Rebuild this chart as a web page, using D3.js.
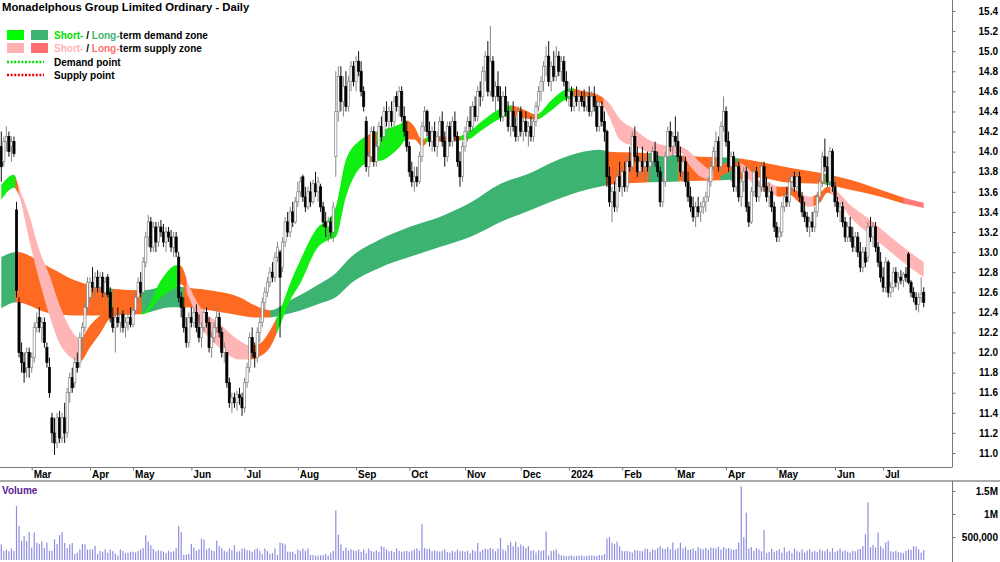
<!DOCTYPE html>
<html><head><meta charset="utf-8">
<script src="https://cdn.jsdelivr.net/npm/d3@7"></script>
<style>
body{margin:0;background:#fff}
svg{display:block}
text{font-family:"Liberation Sans",Arial,sans-serif;font-weight:bold;font-size:10px}
</style>
</head><body>
<svg id="c" width="1000" height="562"></svg>
<script>
// ---------- DATA ----------
const chartTitle = "Monadelphous Group Limited Ordinary - Daily";
const holidays = ["2023-04-07","2023-04-10","2023-04-25","2023-06-12","2023-12-25","2023-12-26",
  "2024-01-01","2024-01-26","2024-03-29","2024-04-01","2024-04-25","2024-06-10"];
const firstDay = "2023-02-13", lastDay = "2024-07-23";

const priceTicks = [11.0,11.2,11.4,11.6,11.8,12.0,12.2,12.4,12.6,12.8,13.0,13.2,13.4,13.6,13.8,14.0,14.2,14.4,14.6,14.8,15.0,15.2,15.4];
const volumeTicks = [500000, 1000000, 1500000];
const volumeTickLabels = ["500,000", "1M", "1.5M"];

// OHLC per month [open, high, low, close]
const ohlc_2023_02 = [[14.05,14.20,13.70,13.85],[13.90,14.15,13.85,14.10],[14.10,14.25,14.00,14.15],[14.15,14.20,13.95,14.00],[14.05,14.15,13.90,14.10],[14.10,14.15,13.95,13.98],
 [13.42,13.50,12.55,12.62],[12.50,12.55,11.95,12.00],[12.00,12.10,11.80,11.90],[11.90,12.00,11.70,11.80],[11.85,12.05,11.75,12.00],[12.00,12.05,11.75,11.85]];
const ohlc_2023_03 = [[11.85,12.00,11.80,11.95],[11.95,12.30,11.90,12.25],[12.25,12.40,12.20,12.30],[12.35,12.45,12.20,12.25],[12.25,12.35,12.10,12.30],[12.30,12.35,12.05,12.10],
 [12.05,12.10,11.85,11.90],[11.85,11.95,11.55,11.60],[11.35,11.40,11.10,11.20],[11.20,11.35,10.98,11.10],[11.10,11.40,11.05,11.35],[11.35,11.42,11.10,11.15],
 [11.15,11.40,11.10,11.35],[11.35,11.50,11.10,11.20],[11.20,11.65,11.15,11.60],[11.60,11.80,11.50,11.75],[11.75,11.85,11.60,11.65],[11.70,11.95,11.65,11.90],
 [11.90,12.00,11.80,11.85],[11.90,12.20,11.85,12.15],[12.15,12.30,12.00,12.25],[12.25,12.50,12.20,12.45],[12.45,12.75,12.40,12.70]];
const ohlc_2023_04 = [[12.55,12.75,12.50,12.70],[12.70,12.85,12.60,12.65],[12.65,12.80,12.55,12.75],[12.75,12.82,12.60,12.65],[12.65,12.80,12.60,12.75],[12.75,12.80,12.55,12.60],
 [12.60,12.75,12.55,12.70],[12.75,12.78,12.55,12.58],[12.60,12.65,12.30,12.35],[12.35,12.45,12.20,12.25],[12.25,12.40,12.00,12.35],[12.35,12.45,12.25,12.30],
 [12.30,12.40,12.20,12.38],[12.38,12.42,12.20,12.25],[12.25,12.35,12.15,12.30],[12.30,12.40,12.22,12.35],[12.35,12.45,12.25,12.28]];
const ohlc_2023_05 = [[12.28,12.45,12.25,12.42],[12.42,12.60,12.38,12.55],[12.55,12.75,12.50,12.70],[12.70,12.80,12.55,12.60],[12.60,12.95,12.58,12.90],[12.90,13.20,12.85,13.15],
 [13.15,13.37,13.05,13.30],[13.30,13.35,13.00,13.05],[13.05,13.30,13.00,13.25],[13.25,13.30,13.00,13.10],[13.10,13.30,13.05,13.25],[13.25,13.32,13.15,13.20],
 [13.20,13.28,13.05,13.10],[13.10,13.25,13.00,13.20],[13.20,13.25,13.10,13.15],[13.15,13.22,13.00,13.05],[13.05,13.20,12.95,13.15],[13.15,13.20,12.95,13.00],
 [12.95,13.00,12.50,12.55],[12.55,12.60,12.35,12.45],[12.45,12.55,12.20,12.25],[12.25,12.35,12.05,12.10],[12.10,12.40,12.05,12.35]];
const ohlc_2023_06 = [[12.35,12.45,12.25,12.30],[12.30,12.45,12.25,12.40],[12.40,12.48,12.20,12.25],[12.25,12.38,12.10,12.15],[12.15,12.30,12.05,12.25],[12.25,12.45,12.20,12.40],
 [12.40,12.45,12.25,12.30],[12.30,12.35,12.00,12.05],[12.05,12.20,11.95,12.15],[12.15,12.30,12.10,12.25],[12.25,12.45,12.20,12.35],[12.35,12.40,12.15,12.20],
 [12.20,12.25,11.95,12.00],[12.00,12.10,11.90,12.05],[12.00,12.00,11.65,11.70],[11.70,11.75,11.45,11.50],[11.50,11.60,11.40,11.55],[11.55,11.60,11.45,11.50],
 [11.50,11.62,11.42,11.58],[11.58,11.65,11.48,11.55],[11.55,11.60,11.37,11.45]];
const ohlc_2023_07 = [[11.45,11.75,11.40,11.70],[11.70,11.90,11.65,11.85],[11.85,12.20,11.80,12.15],[12.15,12.25,11.95,12.00],[12.00,12.10,11.85,11.95],[11.95,12.25,11.90,12.20],
 [12.20,12.35,12.10,12.30],[12.30,12.55,12.25,12.50],[12.50,12.65,12.40,12.60],[12.60,12.75,12.55,12.70],[12.70,12.85,12.65,12.80],[12.80,12.90,12.70,12.75],
 [12.75,13.00,12.70,12.95],[12.95,13.10,12.90,13.05],[13.00,13.02,12.15,12.75],[12.85,13.15,12.80,13.10],[13.10,13.35,13.05,13.30],[13.30,13.40,13.15,13.20],
 [13.20,13.45,13.15,13.40],[13.40,13.50,13.25,13.30],[13.30,13.55,13.28,13.50]];
const ohlc_2023_08 = [[13.50,13.70,13.45,13.60],[13.60,13.75,13.55,13.70],[13.75,13.77,13.50,13.55],[13.55,13.65,13.40,13.45],[13.45,13.65,13.42,13.60],[13.60,13.70,13.45,13.50],
 [13.50,13.72,13.48,13.68],[13.68,13.80,13.55,13.60],[13.60,13.75,13.50,13.70],[13.65,13.68,13.40,13.45],[13.45,13.50,13.25,13.30],[13.30,13.40,13.15,13.25],
 [13.25,13.35,13.10,13.30],[13.30,13.35,13.15,13.20],[13.20,13.50,13.10,13.45],[13.95,14.80,13.75,14.40],[14.40,14.85,14.30,14.75],[14.75,14.85,14.40,14.50],
 [14.50,14.75,14.35,14.65],[14.65,14.80,14.40,14.45],[14.45,14.75,14.40,14.70],[14.70,14.90,14.60,14.85],[14.85,14.90,14.65,14.70]];
const ohlc_2023_09 = [[14.70,14.95,14.60,14.90],[14.90,15.00,14.75,14.80],[14.80,14.90,14.55,14.60],[14.60,14.65,14.40,14.45],[14.30,14.35,13.80,13.85],[13.85,14.00,13.75,13.95],
 [13.95,14.25,13.90,14.20],[14.20,14.25,13.85,13.90],[13.90,14.10,13.85,14.05],[14.05,14.30,14.00,14.25],[14.25,14.35,14.10,14.15],[14.15,14.45,14.10,14.40],
 [14.40,14.50,14.25,14.30],[14.30,14.45,14.20,14.40],[14.40,14.50,14.25,14.30],[14.30,14.55,14.25,14.50],[14.55,14.60,14.40,14.45],[14.45,14.65,14.35,14.60],
 [14.60,14.65,14.30,14.35],[14.35,14.45,14.15,14.20],[14.20,14.30,14.00,14.05]];
const ohlc_2023_10 = [[14.05,14.10,13.75,13.80],[13.80,13.90,13.65,13.70],[13.70,13.85,13.60,13.75],[13.75,13.85,13.65,13.70],[13.70,14.00,13.68,13.95],[13.95,14.30,13.90,14.25],
 [14.25,14.45,14.20,14.40],[14.40,14.42,14.15,14.20],[14.20,14.30,14.05,14.10],[14.10,14.25,14.00,14.20],[14.20,14.30,14.00,14.05],[14.05,14.20,13.95,14.15],
 [14.15,14.35,14.10,14.30],[14.30,14.40,14.05,14.10],[14.10,14.20,13.85,13.95],[13.95,14.30,13.90,14.25],[14.25,14.30,14.05,14.10],[14.10,14.35,14.05,14.30],
 [14.30,14.40,14.10,14.15],[14.15,14.20,13.85,13.90],[13.90,14.00,13.65,13.75],[13.75,14.10,13.70,14.05]];
const ohlc_2023_11 = [[14.05,14.25,14.00,14.20],[14.20,14.35,14.10,14.30],[14.30,14.45,14.20,14.25],[14.25,14.50,14.20,14.45],[14.45,14.55,14.30,14.35],[14.35,14.65,14.30,14.60],
 [14.60,14.70,14.45,14.55],[14.55,14.85,14.50,14.80],[14.80,15.00,14.70,14.95],[14.95,15.10,14.55,14.60],[14.60,15.25,14.55,14.90],[14.90,14.95,14.50,14.55],
 [14.55,14.70,14.40,14.65],[14.65,14.80,14.50,14.55],[14.55,14.65,14.30,14.35],[14.35,14.60,14.30,14.55],[14.55,14.65,14.35,14.40],[14.40,14.50,14.20,14.25],
 [14.25,14.45,14.15,14.40],[14.40,14.50,14.20,14.25],[14.25,14.35,14.10,14.15],[14.15,14.45,14.10,14.40]];
const ohlc_2023_12 = [[14.40,14.45,14.15,14.20],[14.20,14.35,14.10,14.30],[14.30,14.40,14.15,14.20],[14.20,14.30,14.05,14.25],[14.25,14.35,14.10,14.15],[14.15,14.35,14.10,14.30],
 [14.30,14.50,14.25,14.45],[14.45,14.65,14.40,14.60],[14.60,14.75,14.50,14.70],[14.70,14.90,14.60,14.85],[14.85,15.05,14.75,14.95],[14.95,15.10,14.65,14.70],
 [14.70,14.90,14.60,14.85],[14.85,15.00,14.70,14.75],[14.75,15.05,14.70,14.95],[14.95,15.00,14.75,14.80],[14.80,14.95,14.70,14.90],[14.90,14.95,14.65,14.70],
 [14.70,14.80,14.50,14.55]];
const ohlc_2024_01 = [[14.55,14.70,14.45,14.60],[14.60,14.65,14.40,14.45],[14.45,14.60,14.40,14.55],[14.55,14.65,14.45,14.50],[14.50,14.60,14.40,14.55],[14.55,14.60,14.45,14.50],
 [14.50,14.62,14.40,14.45],[14.45,14.60,14.40,14.55],[14.55,14.65,14.35,14.40],[14.40,14.60,14.35,14.55],[14.55,14.65,14.40,14.45],[14.45,14.50,14.20,14.25],
 [14.25,14.50,14.20,14.45],[14.45,14.50,14.25,14.30],[14.30,14.40,14.10,14.20],[14.20,14.22,13.65,13.75],[13.75,13.85,13.45,13.50],[13.50,13.65,13.30,13.60],
 [13.60,13.70,13.40,13.45],[13.45,13.80,13.40,13.75],[13.75,13.90,13.60,13.65]];
const ohlc_2024_02 = [[13.65,13.85,13.55,13.80],[13.80,13.90,13.60,13.65],[13.65,13.95,13.60,13.90],[13.90,14.05,13.80,13.85],[13.85,14.20,13.80,14.15],[14.15,14.25,13.90,13.95],
 [13.95,14.05,13.75,13.80],[13.80,13.95,13.75,13.90],[13.90,14.05,13.80,13.85],[13.85,13.95,13.70,13.90],[13.90,14.00,13.80,13.85],[13.85,13.95,13.75,13.90],
 [13.90,14.05,13.85,14.00],[14.00,14.10,13.85,13.90],[13.90,14.00,13.75,13.80],[13.80,13.85,13.45,13.50],[13.50,13.75,13.45,13.70],[13.70,14.00,13.65,13.95],
 [13.95,14.25,13.90,14.20],[14.20,14.30,14.00,14.05],[14.05,14.20,13.95,14.15]];
const ohlc_2024_03 = [[14.15,14.35,14.05,14.10],[14.10,14.20,13.90,13.95],[13.95,14.05,13.75,13.80],[13.80,13.95,13.70,13.90],[13.90,13.95,13.65,13.70],[13.70,13.80,13.50,13.55],
 [13.55,13.65,13.40,13.45],[13.45,13.55,13.30,13.35],[13.35,13.50,13.25,13.45],[13.45,13.55,13.35,13.40],[13.40,13.50,13.30,13.45],[13.45,13.55,13.38,13.50],
 [13.50,13.60,13.40,13.55],[13.55,13.75,13.50,13.70],[13.70,13.90,13.65,13.85],[13.85,14.05,13.80,14.00],[14.00,14.20,13.90,14.10],[14.10,14.15,13.80,13.85],
 [13.85,14.30,13.80,14.25],[14.25,14.55,14.20,14.40]];
const ohlc_2024_04 = [[14.40,14.45,14.05,14.10],[14.10,14.20,13.80,13.85],[13.85,14.00,13.70,13.95],[13.95,14.00,13.60,13.65],[13.65,13.90,13.60,13.85],[13.85,13.90,13.50,13.55],
 [13.55,13.75,13.45,13.70],[13.70,13.85,13.60,13.80],[13.80,13.85,13.40,13.45],[13.45,13.50,13.25,13.30],[13.30,13.65,13.28,13.60],[13.60,13.85,13.55,13.80],
 [13.80,13.85,13.50,13.55],[13.55,13.70,13.50,13.65],[13.65,13.90,13.60,13.85],[13.85,13.90,13.60,13.65],[13.65,13.75,13.50,13.55],[13.55,13.70,13.45,13.60],
 [13.60,13.65,13.40,13.45],[13.45,13.50,13.20,13.25]];
const ohlc_2024_05 = [[13.25,13.30,13.10,13.15],[13.15,13.25,13.10,13.20],[13.20,13.50,13.15,13.45],[13.45,13.60,13.40,13.55],[13.55,13.65,13.45,13.50],[13.50,13.75,13.45,13.70],
 [13.70,13.80,13.60,13.75],[13.75,13.80,13.60,13.65],[13.65,13.80,13.60,13.75],[13.75,13.80,13.50,13.55],[13.55,13.60,13.35,13.40],[13.40,13.50,13.30,13.35],
 [13.35,13.40,13.20,13.25],[13.25,13.35,13.15,13.30],[13.30,13.40,13.20,13.25],[13.25,13.45,13.20,13.40],[13.40,13.60,13.35,13.55],[13.55,13.75,13.50,13.70],
 [13.70,14.00,13.65,13.95],[13.95,14.13,13.80,13.85],[13.85,13.95,13.65,13.70],[13.70,14.05,13.65,14.00],[14.00,14.03,13.60,13.65]];
const ohlc_2024_06 = [[13.65,13.70,13.45,13.50],[13.50,13.55,13.35,13.40],[13.40,13.50,13.30,13.45],[13.45,13.50,13.25,13.30],[13.30,13.35,13.10,13.15],[13.15,13.30,13.10,13.25],
 [13.25,13.35,13.10,13.15],[13.15,13.25,13.00,13.05],[13.05,13.20,13.00,13.15],[13.15,13.20,12.95,13.00],[13.00,13.10,12.80,12.85],[12.85,13.05,12.80,13.00],
 [13.00,13.05,12.85,12.90],[12.95,13.30,12.90,13.25],[13.25,13.35,13.10,13.15],[13.15,13.30,13.05,13.25],[13.25,13.30,13.00,13.05],[13.05,13.10,12.85,12.90],
 [12.90,13.00,12.70,12.75]];
const ohlc_2024_07 = [[12.75,12.85,12.60,12.65],[12.65,12.95,12.60,12.90],[12.90,12.92,12.55,12.60],[12.60,12.70,12.55,12.65],[12.65,12.85,12.60,12.80],[12.80,12.85,12.65,12.70],
 [12.70,12.80,12.62,12.75],[12.75,12.82,12.68,12.72],[12.72,12.80,12.65,12.78],[12.78,12.85,12.70,12.75],[12.98,13.00,12.68,12.70],[12.70,12.72,12.55,12.60],
 [12.60,12.65,12.50,12.55],[12.55,12.60,12.42,12.48],[12.48,12.60,12.40,12.55],[12.55,12.75,12.50,12.58],[12.60,12.65,12.45,12.50]];

// volume per month, thousands of shares
const vol_2023_02 = [340,195,230,190,250,200,1170,740,420,520,410,610];
const vol_2023_03 = [270,600,380,350,410,260,380,200,200,450,350,540,610,370,260,340,370,130,160,230,350,340,230];
const vol_2023_04 = [230,230,310,130,195,180,230,160,230,195,145,95,230,195,145,160,180];
const vol_2023_05 = [180,160,200,230,260,540,400,320,240,190,210,200,180,150,200,170,190,260,740,610,110,120,130];
const vol_2023_06 = [350,270,200,230,470,440,230,260,210,190,420,300,260,200,180,250,210,320,180,190,250];
const vol_2023_07 = [250,210,200,180,230,250,200,130,250,200,130,150,250,110,380,370,340,180,180,180,130];
const vol_2023_08 = [230,200,250,200,250,110,110,95,95,100,110,130,100,160,200,1080,550,340,200,270,200,230,210];
const vol_2023_09 = [200,230,180,230,150,250,200,180,210,180,300,280,230,190,200,170,250,200,180,190,200];
const vol_2023_10 = [180,200,230,250,200,780,260,240,240,190,210,190,180,200,230,170,160,200,180,230,190,200];
const vol_2023_11 = [180,200,150,220,190,370,180,220,250,230,260,240,190,250,480,230,200,330,390,300,400,280];
const vol_2023_12 = [340,300,260,300,200,210,160,210,195,210,620,100,195,210,230,130,100,90,85];
const vol_2024_01 = [90,100,80,85,95,100,80,90,95,100,90,85,110,100,130,470,500,380,350,400,300];
const vol_2024_02 = [200,190,200,180,160,220,210,200,190,250,240,180,230,220,260,300,250,240,280,230,380];
const vol_2024_03 = [220,260,380,250,290,220,230,250,200,280,250,230,260,220,270,260,250,290,230,280];
const vol_2024_04 = [250,260,230,220,240,380,1600,500,1030,250,280,200,260,230,190,650,150,170,240,180];
const vol_2024_05 = [200,230,160,270,180,200,150,250,200,170,230,160,200,240,180,200,170,230,200,190,240,180,260];
const vol_2024_06 = [170,200,250,190,210,180,160,200,190,230,240,300,560,1250,280,330,270,600,300];
const vol_2024_07 = [250,380,420,190,180,200,170,160,150,200,230,220,300,290,230,160,220];

// zones: trading-day index, upper and lower price of the band
const longZoneDay    = [0,6,19,29,39,56,67,72,82,94,100,106,114,126,132,138,149,161,173,185,197,209,217,228,236,240,252,276,288,299,311,323,335,347,355,364];
const longZoneTop    = [12.95,13.00,12.85,12.72,12.65,12.62,12.67,12.65,12.62,12.55,12.47,12.42,12.52,12.69,12.79,12.95,13.12,13.25,13.35,13.49,13.68,13.79,13.89,13.99,14.02,14.00,13.99,13.95,13.94,13.90,13.84,13.79,13.72,13.62,13.55,13.49];
const longZoneBottom = [12.44,12.50,12.39,12.37,12.37,12.39,12.45,12.45,12.42,12.37,12.35,12.35,12.39,12.49,12.55,12.69,12.84,12.95,13.05,13.15,13.30,13.42,13.50,13.60,13.65,13.67,13.69,13.71,13.72,13.74,13.69,13.68,13.62,13.55,13.49,13.44];
const longZoneRuns = [[0,6.2,"d"],[6.2,42.9,"o"],[42.9,44.5,"d"],[44.5,56,"o"],[56,72.5,"d"],[72.5,106.8,"o"],[106.8,239.4,"d"],[239.4,256,"o"],[256,267.8,"d"],
  [267.8,284.4,"o"],[284.4,291.5,"d"],[291.5,325.5,"o"],[325.5,329.4,"d"],[329.4,356.6,"o"],[356.6,365,"r"]];

const shortZoneDay    = [0,5,7,11,15,19,23,27,31,35,39,43,49,56,63,69,71,74,78,86,94,98,102,106,110,114,118,125,129,132,136,142,145,151,157,160,163,166,169,175,180,184,190,197,201,207,211,217,222,225,230,236,240,244,250,256,262,268,272,276,280,284,290,294,299,303,307,311,315,319,323,326,329,335,343,351,359,364];
const shortZoneTop    = [13.67,13.77,13.64,13.37,13.02,12.77,12.47,12.25,12.14,12.27,12.37,12.43,12.45,12.40,12.72,12.87,12.86,12.67,12.47,12.29,12.12,12.07,12.09,12.22,12.42,12.69,12.92,13.25,13.32,13.45,13.92,14.12,14.17,14.22,14.27,14.31,14.25,14.12,14.15,14.15,14.15,14.19,14.31,14.43,14.46,14.41,14.37,14.51,14.61,14.63,14.60,14.56,14.48,14.33,14.22,14.11,14.06,14.05,13.99,13.89,13.82,13.87,13.90,13.85,13.72,13.69,13.65,13.65,13.59,13.55,13.59,13.65,13.62,13.47,13.32,13.15,12.99,12.90];
const shortZoneBottom = [13.52,13.64,13.56,13.12,12.72,12.37,12.09,11.96,11.91,12.05,12.19,12.34,12.38,12.38,12.55,12.65,12.68,12.55,12.30,12.05,11.93,11.93,11.96,12.05,12.27,12.52,12.69,13.05,13.12,13.15,13.55,13.85,13.89,13.92,14.04,14.12,14.12,14.05,14.11,14.10,14.11,14.12,14.22,14.33,14.36,14.33,14.32,14.41,14.51,14.53,14.51,14.49,14.34,14.12,14.05,13.99,13.95,13.99,13.85,13.75,13.72,13.76,13.82,13.75,13.62,13.59,13.55,13.57,13.49,13.45,13.49,13.59,13.55,13.35,13.17,13.00,12.84,12.75];
const shortZoneRuns = [[0,6.2,"d"],[6.2,7.4,"o"],[7.4,31.8,"s"],[31.8,56,"o"],[56,70.1,"d"],[70.1,73.7,"o"],[73.7,99,"s"],[99,109.2,"o"],[109.2,144.7,"d"],
  [144.7,148.7,"o"],[148.7,160.5,"d"],[160.5,168,"o"],[168,170.8,"d"],[170.8,181.8,"o"],[181.8,202,"d"],[202,212.6,"o"],[212.6,226.4,"d"],[226.4,238.2,"o"],
  [238.2,281.6,"s"],[281.6,292.3,"o"],[292.3,306.5,"s"],[306.5,316.4,"o"],[316.4,321.1,"s"],[321.1,327.8,"o"],[327.8,365,"s"]];

// ---------- BUILD ----------
const fmtDay = d3.timeFormat("%Y-%m-%d");
const parseDay = d3.timeParse("%Y-%m-%d");
const dates = d3.timeDay.range(parseDay(firstDay), d3.timeDay.offset(parseDay(lastDay), 1))
  .filter(d => d.getDay() !== 0 && d.getDay() !== 6 && !holidays.includes(fmtDay(d)));
const ohlc = [ohlc_2023_02,ohlc_2023_03,ohlc_2023_04,ohlc_2023_05,ohlc_2023_06,ohlc_2023_07,ohlc_2023_08,ohlc_2023_09,ohlc_2023_10,ohlc_2023_11,ohlc_2023_12,
  ohlc_2024_01,ohlc_2024_02,ohlc_2024_03,ohlc_2024_04,ohlc_2024_05,ohlc_2024_06,ohlc_2024_07].flat();
const volume = [vol_2023_02,vol_2023_03,vol_2023_04,vol_2023_05,vol_2023_06,vol_2023_07,vol_2023_08,vol_2023_09,vol_2023_10,vol_2023_11,vol_2023_12,
  vol_2024_01,vol_2024_02,vol_2024_03,vol_2024_04,vol_2024_05,vol_2024_06,vol_2024_07].flat().map(v => v * 1000);
const n = Math.min(dates.length, ohlc.length);
const bars = d3.range(n).map(i => ({i, date: dates[i], o: ohlc[i][0], h: ohlc[i][1], l: ohlc[i][2], c: ohlc[i][3], v: volume[i] || 0}));

const W = 1000, H = 562;
const plotRight = 952, priceBottom = 467, dateBottom = 481;
const svg = d3.select("#c");

const x = d3.scaleLinear().domain([0, 364]).range([1.3, 923.7]);
const y = d3.scaleLinear().domain([11.0, 15.4]).range([453, 11]);
const yv = d3.scaleLinear().domain([0, 1500000]).range([560, 491]);

const defs = svg.append("defs");
defs.append("clipPath").attr("id","plotclip").append("rect").attr("x",0).attr("y",0).attr("width",plotRight).attr("height",priceBottom);

const zoneG = svg.append("g").attr("clip-path","url(#plotclip)");
const longColors = {d:"#3cb371", o:"#ff6a22", r:"#ff7a78"};
const shortColors = {d:"#11ee11", o:"#ff6a22", s:"#ffb5b5"};

function drawZone(days, tops, bottoms, runs, colors, key) {
  const pts = days.map((d, k) => ({d, t: tops[k], b: bottoms[k]}));
  const area = d3.area().x(p => x(p.d)).y0(p => y(p.b)).y1(p => y(p.t)).curve(d3.curveMonotoneX);
  runs.forEach((r, k) => {
    const id = key + k;
    defs.append("clipPath").attr("id", id).append("rect")
      .attr("x", x(r[0] - 0.5) - 0.3).attr("y", 0)
      .attr("width", Math.max(0, x(r[1] - 0.5) - x(r[0] - 0.5)) + 0.6).attr("height", priceBottom);
    zoneG.append("path").datum(pts).attr("d", area).attr("fill", colors[r[2]]).attr("clip-path", `url(#${id})`);
  });
}
drawZone(longZoneDay, longZoneTop, longZoneBottom, longZoneRuns, longColors, "lz");
drawZone(shortZoneDay, shortZoneTop, shortZoneBottom, shortZoneRuns, shortColors, "sz");

// candles
const cg = svg.append("g").attr("clip-path","url(#plotclip)");
bars.forEach(b => {
  const up = b.c >= b.o;
  const cx = x(b.i);
  cg.append("line").attr("x1", cx).attr("x2", cx).attr("y1", y(b.h)).attr("y2", y(b.l))
    .attr("stroke", up ? "#858585" : "#111").attr("stroke-width", 1);
  const top = y(Math.max(b.o, b.c)), bot = y(Math.min(b.o, b.c));
  cg.append("rect").attr("x", cx - 1.1).attr("width", 2.2)
    .attr("y", top).attr("height", Math.max(1, bot - top))
    .attr("fill", up ? "#ffffff" : "#000000")
    .attr("stroke", up ? "#858585" : "#000").attr("stroke-width", 0.7);
});

// frame lines
svg.append("line").attr("x1", plotRight + 0.5).attr("x2", plotRight + 0.5).attr("y1", 0).attr("y2", priceBottom).attr("stroke", "#777");
svg.append("line").attr("x1", 0).attr("x2", plotRight + 0.5).attr("y1", priceBottom + 0.5).attr("y2", priceBottom + 0.5).attr("stroke", "#777");
svg.append("line").attr("x1", 0).attr("x2", W).attr("y1", dateBottom).attr("y2", dateBottom).attr("stroke", "#aaa").attr("stroke-width", 2);
svg.append("line").attr("x1", plotRight + 0.5).attr("x2", plotRight + 0.5).attr("y1", dateBottom).attr("y2", H).attr("stroke", "#777");

// price axis
const pa = svg.append("g").attr("transform", `translate(${plotRight + 0.5},0)`)
  .call(d3.axisRight(y).tickValues(priceTicks).tickSize(3).tickFormat(d3.format(".1f")));
pa.select(".domain").remove();
pa.selectAll(".tick line").attr("stroke", "#777");
pa.selectAll(".tick text").attr("x", 45.5).attr("text-anchor", "end").attr("fill", "#000")
  .style("font-size", "10px").style("font-weight", "bold").style("font-family", '"Liberation Sans",Arial,sans-serif');

// date axis
const monthStarts = bars.filter((b, k) => k > 0 && b.date.getMonth() !== bars[k - 1].date.getMonth()).map(b => b.i);
const monthLabel = i => dates[i].getMonth() === 0 ? d3.timeFormat("%Y")(dates[i]) : d3.timeFormat("%b")(dates[i]);
const da = svg.append("g").attr("transform", `translate(0,${priceBottom + 0.5})`)
  .call(d3.axisBottom(x).tickValues(monthStarts).tickSize(3).tickFormat(monthLabel));
da.select(".domain").remove();
da.selectAll(".tick line").attr("stroke", "#777");
da.selectAll(".tick text").attr("x", 1.5).attr("y", 3).attr("dy", "0.72em").attr("text-anchor", "start").attr("fill", "#000")
  .style("font-size", "10px").style("font-weight", "bold").style("font-family", '"Liberation Sans",Arial,sans-serif');

// volume
const vg = svg.append("g");
bars.forEach(b => {
  vg.append("rect").attr("x", x(b.i) - 0.6).attr("width", 1.2)
    .attr("y", yv(b.v)).attr("height", yv(0) - yv(b.v)).attr("fill", "#8e8ee0");
});
const va = svg.append("g").attr("transform", `translate(${plotRight + 0.5},0)`)
  .call(d3.axisRight(yv).tickValues(volumeTicks).tickSize(3).tickFormat((d, k) => volumeTickLabels[k]));
va.select(".domain").remove();
va.selectAll(".tick line").attr("stroke", "#777");
va.selectAll(".tick text").attr("x", 45.5).attr("text-anchor", "end").attr("fill", "#000")
  .style("font-size", "10px").style("font-weight", "bold").style("font-family", '"Liberation Sans",Arial,sans-serif');
svg.append("text").attr("x", 2).attr("y", 494).attr("fill", "#5a1a96").text("Volume");

// title + legend
svg.append("text").attr("x", 2).attr("y", 11).attr("fill", "#000").style("font-size", "11.3px").text(chartTitle);
const lg = svg.append("g");
lg.append("rect").attr("x", 7).attr("y", 30).attr("width", 17).attr("height", 10).attr("fill", "#00ff00");
lg.append("rect").attr("x", 31).attr("y", 30).attr("width", 17).attr("height", 10).attr("fill", "#3cb371");
lg.append("rect").attr("x", 7).attr("y", 43).attr("width", 17).attr("height", 10).attr("fill", "#ffb3b3");
lg.append("rect").attr("x", 31).attr("y", 43).attr("width", 17).attr("height", 10).attr("fill", "#ff7070");
const t1 = lg.append("text").attr("x", 54).attr("y", 39);
t1.append("tspan").attr("fill", "#00e000").text("Short-");
t1.append("tspan").attr("fill", "#000").text(" / ");
t1.append("tspan").attr("fill", "#3cb371").text("Long-");
t1.append("tspan").attr("fill", "#000").text("term demand zone");
const t2 = lg.append("text").attr("x", 54).attr("y", 52);
t2.append("tspan").attr("fill", "#ffb3b3").text("Short-");
t2.append("tspan").attr("fill", "#000").text(" / ");
t2.append("tspan").attr("fill", "#ff7070").text("Long-");
t2.append("tspan").attr("fill", "#000").text("term supply zone");
lg.append("line").attr("x1", 7).attr("x2", 44).attr("y1", 62).attr("y2", 62).attr("stroke", "#00dd00").attr("stroke-width", 2.5).attr("stroke-dasharray", "2,1.6");
lg.append("line").attr("x1", 7).attr("x2", 44).attr("y1", 75).attr("y2", 75).attr("stroke", "#ee0000").attr("stroke-width", 2.5).attr("stroke-dasharray", "2,1.6");
lg.append("text").attr("x", 54).attr("y", 66).attr("fill", "#000").text("Demand point");
lg.append("text").attr("x", 54).attr("y", 79).attr("fill", "#000").text("Supply point");
</script>
</body></html>
